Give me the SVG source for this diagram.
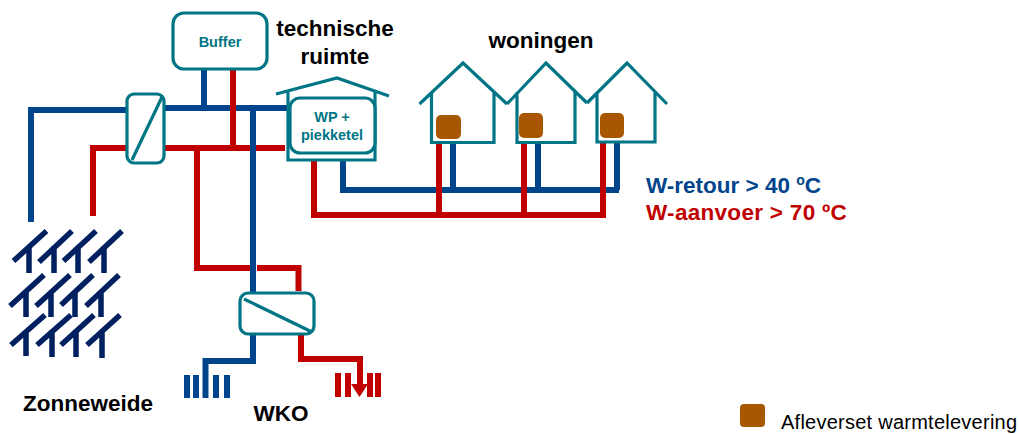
<svg xmlns="http://www.w3.org/2000/svg" width="1019" height="434" viewBox="0 0 1019 434">
<style>
text{font-family:"Liberation Sans",Arial,sans-serif;font-weight:bold;fill:#000}
.n{fill:#fff;stroke:#007585;stroke-width:3.2}
.o{fill:none;stroke:#007585;stroke-width:3.2}
.b{fill:none;stroke:#00458c;stroke-width:6}
.r{fill:none;stroke:#c00000;stroke-width:6}
.s{fill:none;stroke:#002060;stroke-width:5.5}
.h{fill:#a85700}
.l{font-size:22.500px}
</style>
<rect width="1019" height="434" fill="#fff"/>
<g id="connectors">
<path class="b" d="M31 222V110H127"/>
<path class="r" d="M93 216V148H127"/>
<path class="b" d="M165 108H290M204 69V108"/>
<path class="r" d="M165 148H285M233 69V148"/>
<path class="r" d="M197 148V268H250M257 268H298.500V291"/>
<path class="b" d="M253 108V293"/>
<path class="b" d="M253 334V361H205.500V398"/>
<path class="r" d="M301 334V359H360V387"/>
<path fill="#c00000" d="M351 384H368L359.500 397Z"/>
<path class="b" d="M343 160V190H619M453 143V190M538 143V190M617 142V190"/>
<path class="r" d="M314 160V215H606M439 143V215M524 143V215M603 142V215"/>
<g fill="#00458c"><rect x="184" y="375" width="6" height="23"/><rect x="193" y="375" width="6" height="23"/><rect x="213" y="375" width="6" height="23"/><rect x="224" y="375" width="6" height="23"/></g>
<g fill="#c00000"><rect x="335" y="373" width="6" height="24"/><rect x="345" y="373" width="6" height="24"/><rect x="367" y="373" width="6" height="24"/><rect x="375" y="373" width="6" height="24"/></g>
</g>
<g id="zonneweide">
<path class="s" d="M13.500 261L46.500 231M29 247V273M39 262L72 231M54 246V273M63.500 261L96 231M78 246V273M89 262L122 231M104 246V273"/>
<path class="s" d="M10 306L44 275M26 291V317M36 306L70 275M51 291V317M61 305L93 275M75 291V317M86 306L119 275M101 291V317"/>
<path class="s" d="M11 345L45 315M26 331V356M37 345L71 315M52 330V357M61 345L94 315M76 330V357M87 345L120 315M102 330V358"/>
</g>
<g id="hx1"><rect class="n" x="127" y="94" width="37" height="69" rx="7"/><path class="o" d="M162 97L132 160"/></g>
<g id="buffer"><rect class="n" x="173" y="13" width="94" height="56" rx="11"/><text x="220" y="47" font-size="14.500" text-anchor="middle" style="fill:#007585">Buffer</text></g>
<g id="wp">
<path class="o" d="M276 94L337 78L389 96M288 90V160H375V92"/>
<rect class="n" x="290" y="98" width="85" height="55" rx="10"/>
<text x="332" y="122" font-size="14.500" text-anchor="middle" style="fill:#007585">WP +</text>
<text x="332" y="140" font-size="14.500" text-anchor="middle" style="fill:#007585">piekketel</text>
</g>
<g id="hx2"><rect class="n" x="240" y="293" width="74" height="41" rx="8"/><path class="o" d="M244 299L312 332"/></g>
<g id="house1"><path class="o" d="M419.500 104L463 63L507 104M431.500 92V142.500H494V92"/><rect class="h" x="436" y="115" width="25" height="24" rx="5"/></g>
<g id="house2"><path class="o" d="M507 104L546 63L587 103M517 92V142.500H575V92"/><rect class="h" x="519" y="113" width="24" height="25" rx="5"/></g>
<g id="house3"><path class="o" d="M587 103L627 63L667 104M597 92V142H655V92"/><rect class="h" x="600" y="113" width="24" height="25" rx="5"/></g>
<g id="labels">
<text x="335" y="36" font-size="22.500" text-anchor="middle">technische</text>
<text x="335" y="64" font-size="22.500" text-anchor="middle">ruimte</text>
<text x="541" y="48" font-size="22.500" text-anchor="middle">woningen</text>
<text x="88" y="411" font-size="22.500" text-anchor="middle">Zonneweide</text>
<text x="281" y="421" font-size="22.500" text-anchor="middle">WKO</text>
<text x="646" y="193" class="l" style="fill:#00458c">W-retour &gt; 40 <tspan font-size="14" dy="-8">o</tspan><tspan dy="8">C</tspan></text>
<text x="646" y="220" class="l" style="fill:#c00000;letter-spacing:.3px">W-aanvoer &gt; 70 ºC</text>
<rect class="h" x="740" y="404" width="25" height="23" rx="4"/>
<text x="781" y="429" font-size="20" style="font-weight:normal;letter-spacing:.25px">Afleverset warmtelevering</text>
</g>
</svg>
